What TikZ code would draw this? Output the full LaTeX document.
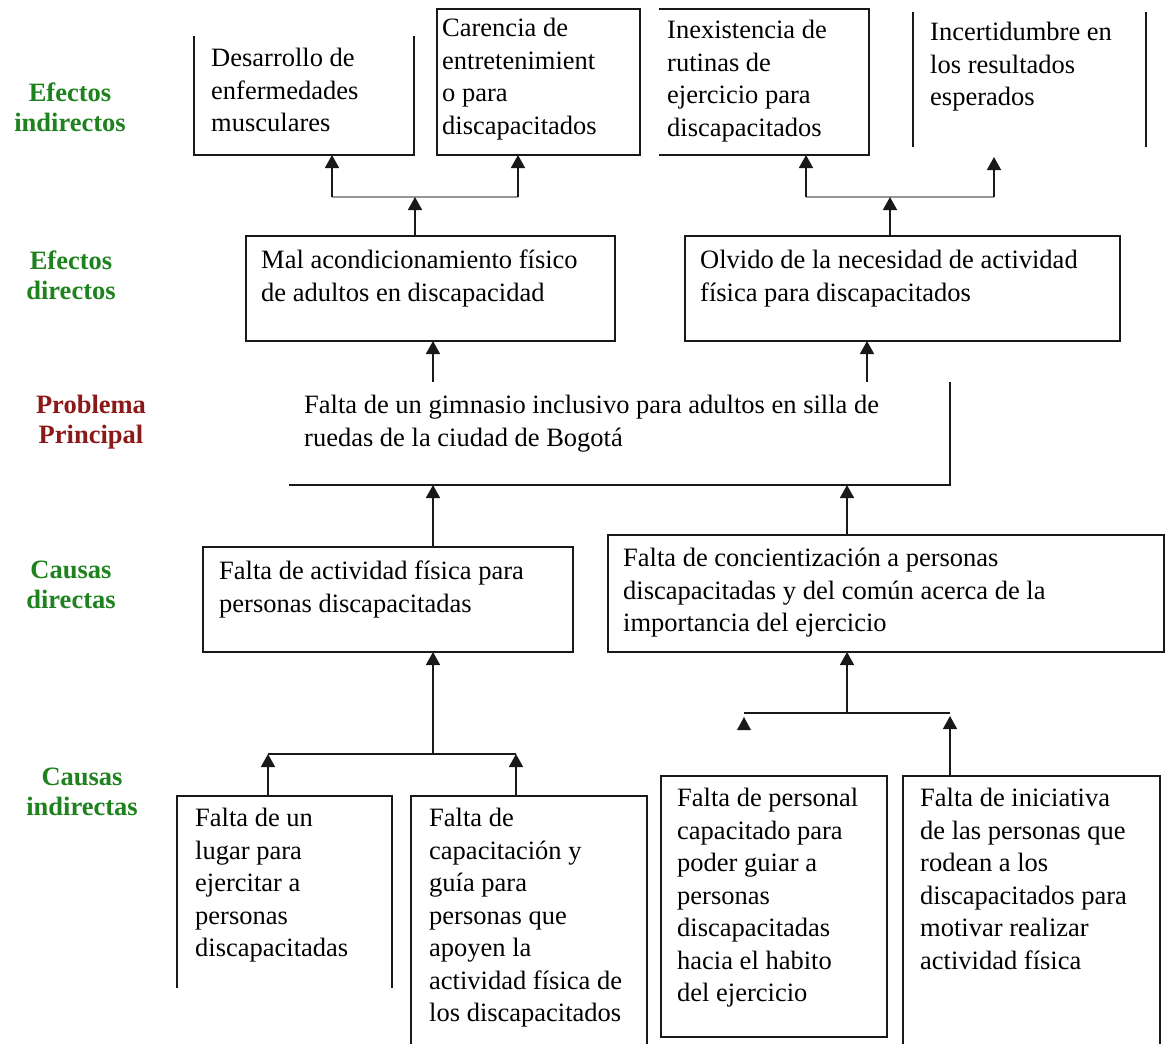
\documentclass[tikz,border=0pt]{standalone}
\usepackage{fontspec}
\setmainfont{Liberation Serif}
\usetikzlibrary{arrows.meta}
\definecolor{lblgreen}{RGB}{30,130,30}
\definecolor{lblred}{RGB}{140,25,25}
\definecolor{inkc}{RGB}{25,25,25}
\definecolor{hlc}{RGB}{150,150,150}
\begin{document}
\begin{tikzpicture}[x=1pt,y=-1pt,
  shapebox/.style={rectangle, inner sep=0pt, outer sep=0pt},
  edge/.style={draw=inkc, line width=1.8pt},
  txt/.style={anchor=north west, inner sep=0pt, align=left, text=black,
    font=\fontsize{26.5}{32.5}\selectfont},
  lbl/.style={anchor=north, inner sep=0pt, align=center,
    font=\bfseries\fontsize{26.5}{30}\selectfont},
  arr/.style={draw=inkc, line width=1.6pt, -{Triangle[width=14pt,length=13pt]}},
  hline/.style={draw=hlc, line width=1.2pt},
  hlined/.style={draw=inkc, line width=1.6pt}]
\useasboundingbox[fill=white] (0,0) rectangle (1167,1044);

% ---------- left labels ----------
\node[lbl, text=lblgreen] (L1) at (70,83) {Efectos\\indirectos};
\node[lbl, text=lblgreen] (L2) at (71,251) {Efectos\\directos};
\node[lbl, text=lblred]   (L3) at (91,395) {Problema\\Principal};
\node[lbl, text=lblgreen] (L4) at (71,561) {Causas\\directas};
\node[lbl, text=lblgreen] (L5) at (82,768) {Causas\\indirectas};

% ---------- box shapes ----------
\node[shapebox, minimum width=220pt, minimum height=119pt] (B1) at (304,95.5) {};
\node[shapebox, minimum width=203pt, minimum height=146pt] (B2) at (538.5,82) {};
\node[shapebox, minimum width=210pt, minimum height=146pt] (B3) at (764,82) {};
\node[shapebox, minimum width=233pt, minimum height=135pt] (B4) at (1029.5,79.5) {};
\node[shapebox, minimum width=369pt, minimum height=105pt] (D1) at (430.5,288.5) {};
\node[shapebox, minimum width=435pt, minimum height=105pt] (D2) at (902.5,288.5) {};
\node[shapebox, minimum width=661pt, minimum height=103pt] (P)  at (619.5,433.5) {};
\node[shapebox, minimum width=370pt, minimum height=105pt] (C1) at (388,599.5) {};
\node[shapebox, minimum width=556pt, minimum height=117pt] (C2) at (886,593.5) {};
\node[shapebox, minimum width=215pt, minimum height=192pt] (I1) at (284.5,892) {};
\node[shapebox, minimum width=236pt, minimum height=248pt] (I2) at (529,920) {};
\node[shapebox, minimum width=226pt, minimum height=261pt] (I3) at (774,906.5) {};
\node[shapebox, minimum width=257pt, minimum height=268pt] (I4) at (1031.5,910) {};

% visible sides
\draw[edge] (B1.north west) -- (B1.south west) -- (B1.south east) -- (B1.north east);
\draw[edge] (B2.north west) rectangle (B2.south east);
\draw[edge] (B3.north west) -- (B3.north east) -- (B3.south east) -- (B3.south west);
\draw[edge] (B4.north west) -- (B4.south west);
\draw[edge] (B4.north east) -- (B4.south east);
\draw[edge] (D1.north west) rectangle (D1.south east);
\draw[edge] (D2.north west) rectangle (D2.south east);
\draw[edge] (P.north east) -- (P.south east) -- (P.south west);
\draw[edge] (C1.north west) rectangle (C1.south east);
\draw[edge] (C2.north west) rectangle (C2.south east);
\draw[edge] (I1.south west) -- (I1.north west) -- (I1.north east) -- (I1.south east);
\draw[edge] (I2.south west) -- (I2.north west) -- (I2.north east) -- (I2.south east);
\draw[edge] (I3.north west) rectangle (I3.south east);
\draw[edge] (I4.south west) -- (I4.north west) -- (I4.north east) -- (I4.south east);

% ---------- texts ----------
\node[txt] (tB1) at (211,48) {Desarrollo de\\enfermedades\\musculares};
\node[txt] (tB2) at (442,18) {Carencia de\\entretenimient\\o para\\discapacitados};
\node[txt] (tB3) at (667,20) {Inexistencia de\\rutinas de\\ejercicio para\\discapacitados};
\node[txt] (tB4) at (930,22) {Incertidumbre en\\los resultados\\esperados};
\node[txt] (tD1) at (261,250) {Mal acondicionamiento físico\\de adultos en discapacidad};
\node[txt] (tD2) at (700,250) {Olvido de la necesidad de actividad\\física para discapacitados};
\node[txt] (tP)  at (304,395) {Falta de un gimnasio inclusivo para adultos en silla de\\ruedas de la ciudad de Bogotá};
\node[txt] (tC1) at (219,561) {Falta de actividad física para\\personas discapacitadas};
\node[txt] (tC2) at (623,548) {Falta de concientización a personas\\discapacitadas y del común acerca de la\\importancia del ejercicio};
\node[txt] (tI1) at (195,808) {Falta de un\\lugar para\\ejercitar a\\personas\\discapacitadas};
\node[txt] (tI2) at (429,808) {Falta de\\capacitación y\\guía para\\personas que\\apoyen la\\actividad física de\\los discapacitados};
\node[txt] (tI3) at (677,788) {Falta de personal\\capacitado para\\poder guiar a\\personas\\discapacitadas\\hacia el habito\\del ejercicio};
\node[txt] (tI4) at (920,788) {Falta de iniciativa\\de las personas que\\rodean a los\\discapacitados para\\motivar realizar\\actividad física};

% ---------- connectors: top left ----------
\coordinate (jA)  at (415,197);
\coordinate (jAL) at (332,197);
\coordinate (jAR) at (518,197);
\draw[hline] (jAL) -- (jAR);
\draw[arr] (jAL) -- (jAL |- B1.south);
\draw[arr] (jAR) -- (jAR |- B2.south);
\draw[arr] (D1.north -| jA) -- (jA);

% ---------- connectors: top right ----------
\coordinate (jB)  at (890,197);
\coordinate (jBL) at (806,197);
\coordinate (jBR) at (994,197);
\coordinate (tipB4) at (994,157);
\draw[hline] (jBL) -- (jBR);
\draw[arr] (jBL) -- (jBL |- B3.south);
\draw[arr] (jBR) -- (tipB4);
\draw[arr] (D2.north -| jB) -- (jB);

% ---------- problem to direct effects ----------
\coordinate (pA) at (433,382);
\coordinate (pB) at (867,382);
\draw[arr] (pA) -- (pA |- D1.south);
\draw[arr] (pB) -- (pB |- D2.south);

% ---------- direct causes to problem ----------
\coordinate (cA) at (433,485);
\coordinate (cB) at (847,485);
\draw[arr] (C1.north -| cA) -- (cA);
\draw[arr] (C2.north -| cB) -- (cB);

% ---------- indirect causes, left group ----------
\coordinate (jC)  at (433,754);
\coordinate (jCL) at (268,754);
\coordinate (jCR) at (516,754);
\draw[hlined] (jCL) -- (jCR);
\draw[arr] (jC) -- (jC |- C1.south);
\draw[arr] (I1.north -| jCL) -- (jCL);
\draw[arr] (I2.north -| jCR) -- (jCR);

% ---------- indirect causes, right group ----------
\coordinate (jD)  at (847,713);
\coordinate (jDL) at (744,713);
\coordinate (jDR) at (950,713);
\coordinate (oA) at (744,731);
\coordinate (oB) at (744,717);
\coordinate (tipD) at (950,716);
\draw[hlined] (jDL) -- (jDR);
\draw[arr] (jD) -- (jD |- C2.south);
\draw[arr] (I4.north -| jDR) -- (tipD);
\draw[arr, draw opacity=0] (oA) -- (oB);
\fill[inkc] (oB) -- ++(-7,13) -- ++(14,0) -- cycle;
\end{tikzpicture}
\end{document}
